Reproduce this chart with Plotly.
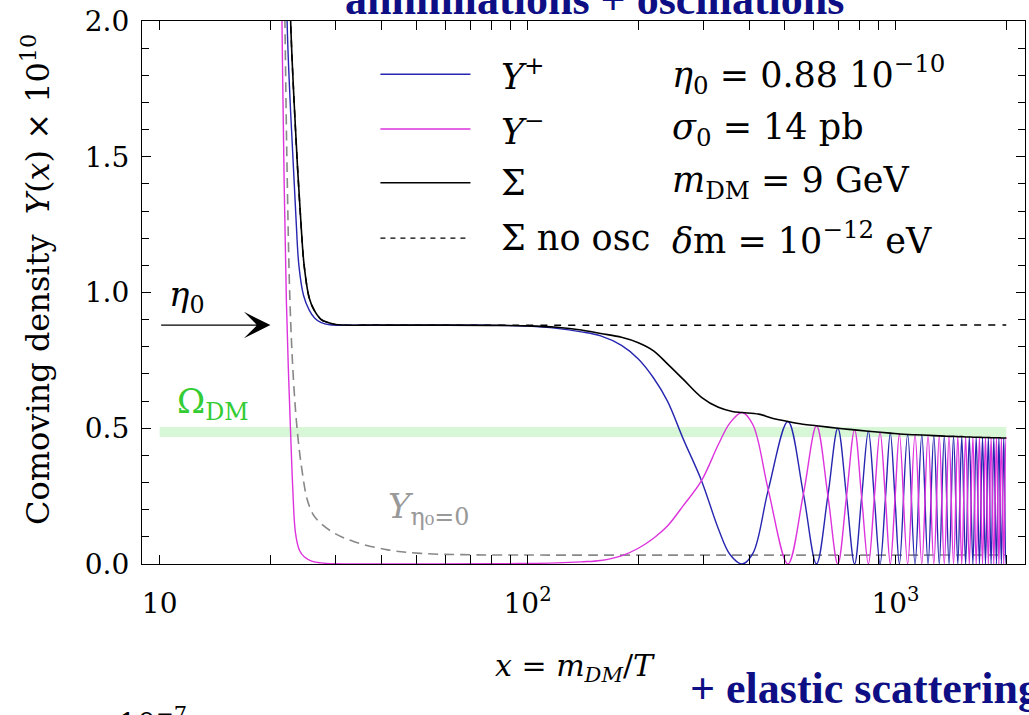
import plotly.graph_objects as go

# (x, Y) pairs, Y in units of 1e-10
SIGMA = [(22.3, 2.6), (22.7, 2.0), (23.2, 1.70), (23.7, 1.46), (24.2, 1.26), (24.7, 1.10),
         (25.5, 0.98), (26.3, 0.935), (27.5, 0.90), (28.6, 0.89), (30, 0.882), (40, 0.880),
         (60, 0.880), (80, 0.879), (100, 0.877), (120, 0.872), (140, 0.862), (158, 0.849),
         (180, 0.835), (200, 0.815), (220, 0.785), (240, 0.737), (265, 0.68), (297, 0.614),
         (330, 0.577), (360, 0.562), (383, 0.558), (425, 0.552), (460, 0.538), (510, 0.525),
         (560, 0.515), (610, 0.509), (697, 0.500), (774, 0.494), (844, 0.489), (908, 0.485),
         (968, 0.482), (1025, 0.479), (1079, 0.477), (1130, 0.476), (1179, 0.475), (1226, 0.474),
         (1271, 0.473), (1315, 0.472), (1357, 0.471), (1398, 0.470), (1438, 0.470), (1477, 0.469),
         (1514, 0.469), (1551, 0.468), (1587, 0.468), (1623, 0.467), (1657, 0.467), (1691, 0.467),
         (1724, 0.466), (1756, 0.466), (1788, 0.466), (1819, 0.465), (1850, 0.465), (1881, 0.465),
         (1910, 0.465), (1940, 0.464), (1969, 0.464), (2000, 0.464)]

Y_PLUS = [(22.0, 2.6), (22.2, 2.0), (22.6, 1.72), (23.1, 1.46), (23.5, 1.26), (23.9, 1.10),
          (24.6, 0.99), (25.5, 0.935), (26.4, 0.905), (27.4, 0.89), (29, 0.881), (35, 0.880),
          (60, 0.880), (80, 0.879), (100, 0.876), (120, 0.868), (140, 0.855), (158, 0.840),
          (180, 0.805), (200, 0.755), (220, 0.685), (240, 0.60), (265, 0.46), (297, 0.307),
          (330, 0.13), (355, 0.035), (383, 0.0), (410, 0.04), (451, 0.273), (510, 0.525),
          (562, 0.258), (610, 0.0), (655, 0.252), (697, 0.500), (736, 0.249), (774, 0.0),
          (809, 0.246), (844, 0.489), (876, 0.244), (908, 0.0), (939, 0.242), (968, 0.482),
          (997, 0.240), (1025, 0.0), (1079, 0.477), (1130, 0.0), (1179, 0.475), (1226, 0.0),
          (1271, 0.473), (1315, 0.0), (1357, 0.471), (1398, 0.0), (1438, 0.470), (1477, 0.0),
          (1514, 0.469), (1551, 0.0), (1587, 0.468), (1623, 0.0), (1657, 0.467), (1691, 0.0),
          (1724, 0.466), (1756, 0.0), (1788, 0.466), (1819, 0.0), (1850, 0.465), (1881, 0.0),
          (1910, 0.465), (1940, 0.0), (1969, 0.464), (1997, 0.0), (2000, 0.002)]

Y_MINUS = [(21.3, 2.6), (21.5, 2.0), (21.8, 1.4), (22.1, 0.97), (22.4, 0.70), (22.7, 0.48),
           (23.0, 0.28), (23.4, 0.114), (24.0, 0.05), (24.7, 0.027), (26, 0.010), (27.4, 0.004),
           (30, 0.001), (40, 0.0), (80, 0.001), (100, 0.002), (120, 0.004), (140, 0.008),
           (158, 0.013), (180, 0.03), (200, 0.058), (220, 0.095), (240, 0.14), (265, 0.215),
           (297, 0.307), (330, 0.44), (355, 0.52), (383, 0.558), (410, 0.512), (451, 0.273),
           (510, 0.0), (562, 0.258), (610, 0.509), (655, 0.252), (697, 0.0), (736, 0.249),
           (774, 0.494), (809, 0.246), (844, 0.0), (876, 0.244), (908, 0.485), (939, 0.242),
           (968, 0.0), (997, 0.240), (1025, 0.479), (1079, 0.0), (1130, 0.476), (1179, 0.0),
           (1226, 0.474), (1271, 0.0), (1315, 0.472), (1357, 0.0), (1398, 0.470), (1438, 0.0),
           (1477, 0.469), (1514, 0.0), (1551, 0.468), (1587, 0.0), (1623, 0.467), (1657, 0.0),
           (1691, 0.467), (1724, 0.0), (1756, 0.466), (1788, 0.0), (1819, 0.465), (1850, 0.0),
           (1881, 0.465), (1910, 0.0), (1940, 0.464), (1969, 0.0), (1997, 0.464), (2000, 0.462)]

SIGMA_NO_OSC = [(22.3, 2.6), (22.7, 2.0), (23.2, 1.70), (23.7, 1.46), (24.2, 1.26), (24.7, 1.10),
                (25.5, 0.98), (26.3, 0.935), (27.5, 0.90), (28.6, 0.89), (30, 0.882), (40, 0.880),
                (2000, 0.880)]

Y_ETA0_ZERO = [(21.6, 2.6), (21.9, 2.0), (22.2, 1.45), (22.6, 0.97), (23.1, 0.68), (23.7, 0.48),
               (24.4, 0.34), (25.2, 0.236), (26.2, 0.18), (27.4, 0.150), (29.8, 0.114), (33.8, 0.082),
               (41.7, 0.052), (51.3, 0.039), (70, 0.034), (100, 0.033), (2000, 0.033)]

OMEGA_X = [10, 2000]
OMEGA_LO = [0.468, 0.468]
OMEGA_HI = [0.505, 0.505]

X_TICKS = [10, 100, 1000]
X_TICKTEXT = ['10', '10<sup>2</sup>', '10<sup>3</sup>']
X_MINOR = [20, 30, 40, 50, 60, 70, 80, 90, 200, 300, 400, 500, 600, 700, 800, 900, 2000]
Y_TICKS = [0, 0.5, 1.0, 1.5, 2.0]
Y_TICKTEXT = ['0.0', '0.5', '1.0', '1.5', '2.0']

LEGEND_NAMES = ['<i>Y</i><sup>+</sup>', '<i>Y</i><sup>\u2212</sup>', '\u03a3', '\u03a3 no osc']
PARAMS = ['<i>\u03b7</i><sub>0</sub> = 0.88 10<sup>\u221210</sup>',
          '<i>\u03c3</i><sub>0</sub> = 14 pb',
          '<i>m</i><sub>DM</sub> = 9 GeV',
          '<i>\u03b4</i>m = 10<sup>\u221212</sup> eV']

BLUE = '#2626b0'
PINK = '#dd33dd'
SERIF = 'DejaVu Serif'
TIMES = 'Liberation Serif'
NAVY = '#0f0f85'


def xy(pairs):
    return [p[0] for p in pairs], [p[1] for p in pairs]


def main():
    fig = go.Figure()

    # Omega_DM band
    fig.add_trace(go.Scatter(x=OMEGA_X, y=OMEGA_LO, mode='lines', line=dict(width=0), hoverinfo='skip'))
    fig.add_trace(go.Scatter(x=OMEGA_X, y=OMEGA_HI, mode='lines', line=dict(width=0), fill='tonexty',
                             fillcolor='rgba(110,225,110,0.28)', hoverinfo='skip'))

    x, y = xy(Y_ETA0_ZERO)
    fig.add_trace(go.Scatter(x=x, y=y, mode='lines', line=dict(color='#888888', width=1.6, dash='10px,6px', shape='spline')))
    x, y = xy(SIGMA_NO_OSC)
    fig.add_trace(go.Scatter(x=x, y=y, mode='lines', line=dict(color='black', width=1.5, dash='7px,7px', shape='spline')))
    x, y = xy(Y_PLUS)
    fig.add_trace(go.Scatter(x=x, y=y, mode='lines', line=dict(color=BLUE, width=1.4, shape='spline')))
    x, y = xy(Y_MINUS)
    fig.add_trace(go.Scatter(x=x, y=y, mode='lines', line=dict(color=PINK, width=1.4, shape='spline')))
    x, y = xy(SIGMA)
    fig.add_trace(go.Scatter(x=x, y=y, mode='lines', line=dict(color='black', width=1.6, shape='spline')))

    # legend drawn by hand (two-column layout of the original)
    leg_rows = [0.902, 0.801, 0.702, 0.600]
    leg_styles = [dict(color=BLUE, width=1.4), dict(color=PINK, width=1.4),
                  dict(color='black', width=1.4), dict(color='black', width=1.2, dash='5px,5px')]
    for yy, st, name, par in zip(leg_rows, leg_styles, LEGEND_NAMES, PARAMS):
        fig.add_shape(type='line', xref='paper', yref='paper', x0=0.270, x1=0.372, y0=yy, y1=yy, line=st)
        fig.add_annotation(xref='paper', yref='paper', x=0.404, y=yy, text=name, showarrow=False,
                           xanchor='left', yanchor='middle', font=dict(size=35))
        fig.add_annotation(xref='paper', yref='paper', x=0.598, y=yy, text=par, showarrow=False,
                           xanchor='left', yanchor='middle', font=dict(size=35))

    # eta_0 arrow and labels (log axis -> log10 positions)
    fig.add_annotation(x=1.301, y=0.88, ax=1.0, ay=0.88, axref='x', ayref='y', xref='x', yref='y',
                       text='', showarrow=True, arrowhead=3, arrowsize=3.4, arrowwidth=1.3, arrowcolor='black')
    fig.add_annotation(x=1.075, y=0.985, text='<i>\u03b7</i><sub>0</sub>', showarrow=False, font=dict(size=34))
    fig.add_annotation(x=1.144, y=0.59, text='\u03a9<sub>DM</sub>', showarrow=False,
                       font=dict(size=34, color='#33cc33'))
    fig.add_annotation(x=1.732, y=0.205, text='<i>Y</i><sub>\u03b7\u2080=0</sub>', showarrow=False,
                       font=dict(size=34, color='#999999'))

    # axis titles and slide text
    fig.add_annotation(xref='paper', yref='paper', x=-0.12, y=0.523, xanchor='center', yanchor='middle',
                       textangle=-90, text='Comoving density  <i>Y</i>(<i>x</i>) \u00d7 10<sup>10</sup>',
                       showarrow=False, font=dict(size=32))
    fig.add_annotation(xref='paper', yref='paper', x=0.49, y=-0.19, xanchor='center', yanchor='middle',
                       text='<i>x</i> = <i>m<sub>DM</sub></i>/<i>T</i>', showarrow=False, font=dict(size=30))
    fig.add_annotation(xref='paper', yref='paper', x=0.513, y=0.9905, xanchor='center', yanchor='bottom',
                       text='<b>annihilations + oscillations</b>', showarrow=False,
                       font=dict(size=44, color=NAVY, family=TIMES))
    fig.add_annotation(xref='paper', yref='paper', x=0.618, y=-0.23, xanchor='left', yanchor='middle',
                       text='<b>+ elastic scattering</b>', showarrow=False,
                       font=dict(size=44, color=NAVY, family=TIMES))
    fig.add_annotation(xref='paper', yref='paper', x=0.012, y=-0.29, xanchor='center', yanchor='middle',
                       text='10<sup>\u22127</sup>', showarrow=False, font=dict(size=30))

    axis_common = dict(showline=True, linecolor='black', linewidth=1.2, mirror='ticks', ticks='inside',
                       ticklen=9, tickwidth=1, tickcolor='black', showgrid=False, zeroline=False,
                       automargin=False, ticklabeloverflow='allow',
                       tickfont=dict(size=28, family=SERIF, color='black'))
    fig.update_xaxes(type='log', range=[0.952, 3.352], tickvals=X_TICKS, ticktext=X_TICKTEXT,
                     minor=dict(tickvals=X_MINOR, ticks='inside', ticklen=9, tickcolor='black', showgrid=False),
                     ticklabelstandoff=14, **axis_common)
    fig.update_yaxes(range=[0, 2], tickvals=Y_TICKS, ticktext=Y_TICKTEXT,
                     minor=dict(dtick=0.1, ticks='inside', ticklen=7, tickcolor='black', showgrid=False),
                     ticklabelstandoff=6, **axis_common)

    fig.update_layout(width=1029, height=715, margin=dict(l=142, r=4, t=21, b=151),
                      template='none', plot_bgcolor='white', paper_bgcolor='white', showlegend=False,
                      font=dict(family=SERIF, color='black'))
    # drop the default page margin so the figure sits at the window's corner
    fig.write_html('out.html', config={'displayModeBar': False},
                   post_script="document.body.style.margin='0';")


if __name__ == '__main__':
    main()
